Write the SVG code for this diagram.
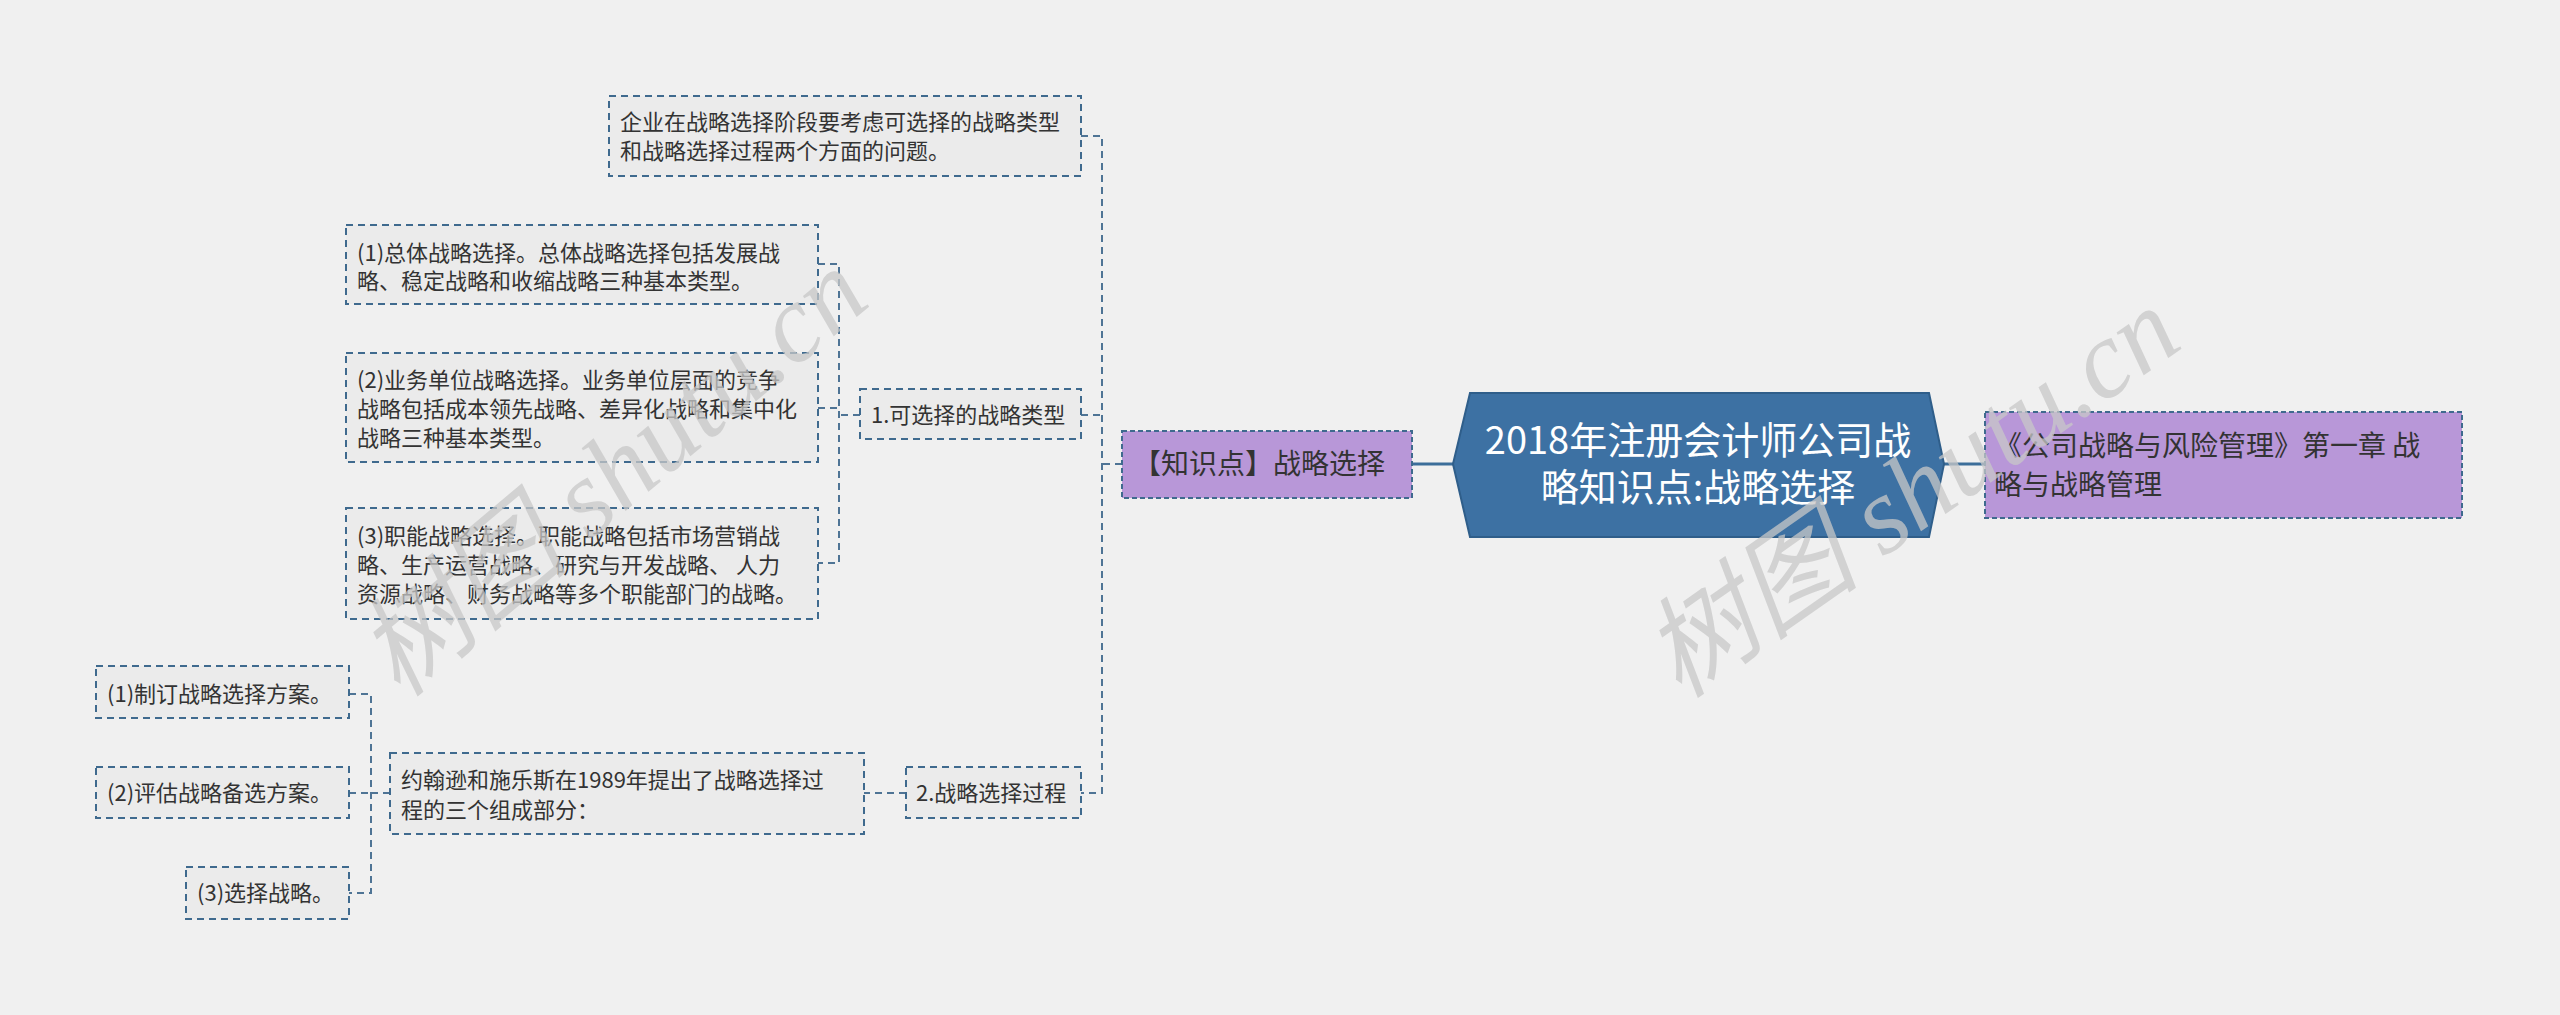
<svg xmlns="http://www.w3.org/2000/svg" width="2560" height="1015" viewBox="0 0 2560 1015">
<style>
.bx{fill:#ebebeb;stroke:#3f6a8e;stroke-width:2;stroke-dasharray:7,5}
.pb{fill:#b897d8;stroke:#3f6a8e;stroke-width:2;stroke-dasharray:5,3}
.t{font-family:"Noto Sans CJK SC","Liberation Sans",sans-serif;font-size:22px;fill:#333}
.tl{font-family:"Noto Sans CJK SC","Liberation Sans",sans-serif;font-size:28px;fill:#333}
.tc{font-family:"Noto Sans CJK SC","Liberation Sans",sans-serif;font-size:38px;fill:#fff}
.c{fill:none;stroke:#4f7495;stroke-width:2;stroke-dasharray:7,5}
.cs{fill:none;stroke:#3c6e9a;stroke-width:3}
.wm{font-family:"Liberation Serif","Noto Sans CJK SC",serif;font-style:italic;font-size:110px;fill:#c8c8c8;opacity:0.75}
</style>
<rect width="2560" height="1015" fill="#f0f0f0"/>
<g id="connectors">
<path class="c" d="M1122,464 H1102 M1081,136 H1102 V793 H1081 M1081,415 H1102"/>
<path class="c" d="M860,415 H839 M818,264 H839 V563 H818 M818,408 H839"/>
<path class="c" d="M906,793 H864"/>
<path class="c" d="M390,793 H371 M349,694 H371 V893 H349 M349,793 H371"/>
<path class="cs" d="M1412,464 H1453 M1944,464 H1985"/>
</g>
<g id="nA"><rect class="bx" x="609" y="96" width="472" height="80"/><text class="t" x="620" y="130">企业在战略选择阶段要考虑可选择的战略类型</text><text class="t" x="620" y="159">和战略选择过程两个方面的问题。</text></g>
<g id="nB1"><rect class="bx" x="346" y="225" width="472" height="79"/><text class="t" x="357" y="261">(1)总体战略选择。总体战略选择包括发展战</text><text class="t" x="357" y="289">略、稳定战略和收缩战略三种基本类型。</text></g>
<g id="nB2"><rect class="bx" x="346" y="353" width="472" height="109"/><text class="t" x="357" y="388">(2)业务单位战略选择。业务单位层面的竞争</text><text class="t" x="357" y="417">战略包括成本领先战略、差异化战略和集中化</text><text class="t" x="357" y="446">战略三种基本类型。</text></g>
<g id="nB3"><rect class="bx" x="346" y="508" width="472" height="111"/><text class="t" x="357" y="544">(3)职能战略选择。职能战略包括市场营销战</text><text class="t" x="357" y="573">略、生产运营战略、研究与开发战略、 人力</text><text class="t" x="357" y="602">资源战略、财务战略等多个职能部门的战略。</text></g>
<g id="n1"><rect class="bx" x="860" y="389" width="221" height="50"/><text class="t" x="871" y="423">1.可选择的战略类型</text></g>
<g id="n2"><rect class="bx" x="906" y="767" width="175" height="51"/><text class="t" x="916" y="801">2.战略选择过程</text></g>
<g id="nC"><rect class="bx" x="390" y="753" width="474" height="81"/><text class="t" x="401" y="788">约翰逊和施乐斯在1989年提出了战略选择过</text><text class="t" x="401" y="818">程的三个组成部分：</text></g>
<g id="nD1"><rect class="bx" x="96" y="666" width="253" height="52"/><text class="t" x="107" y="702">(1)制订战略选择方案。</text></g>
<g id="nD2"><rect class="bx" x="96" y="767" width="253" height="51"/><text class="t" x="107" y="801">(2)评估战略备选方案。</text></g>
<g id="nD3"><rect class="bx" x="186" y="867" width="163" height="52"/><text class="t" x="197" y="901">(3)选择战略。</text></g>
<g id="nK"><rect class="pb" x="1122" y="431" width="290" height="67"/><text class="tl" x="1133" y="474">【知识点】战略选择</text></g>
<g id="root"><polygon points="1470,393 1929,393 1944,464 1929,537 1470,537 1453,464" fill="#3d71a3" stroke="#2f5e8a" stroke-width="2"/><text class="tc" x="1698" y="454" text-anchor="middle">2018年注册会计师公司战</text><text class="tc" x="1698" y="501" text-anchor="middle">略知识点:战略选择</text></g>
<g id="nR"><rect class="pb" x="1985" y="412" width="477" height="106"/><text class="tl" x="1994" y="456">《公司战略与风险管理》第一章 战</text><text class="tl" x="1994" y="495">略与战略管理</text></g>
<text class="wm" transform="translate(400,700) rotate(-40)">树图 shutu.cn</text>
<text class="wm" transform="translate(1680,700) rotate(-35)">树图 shutu.cn</text>
</svg>
